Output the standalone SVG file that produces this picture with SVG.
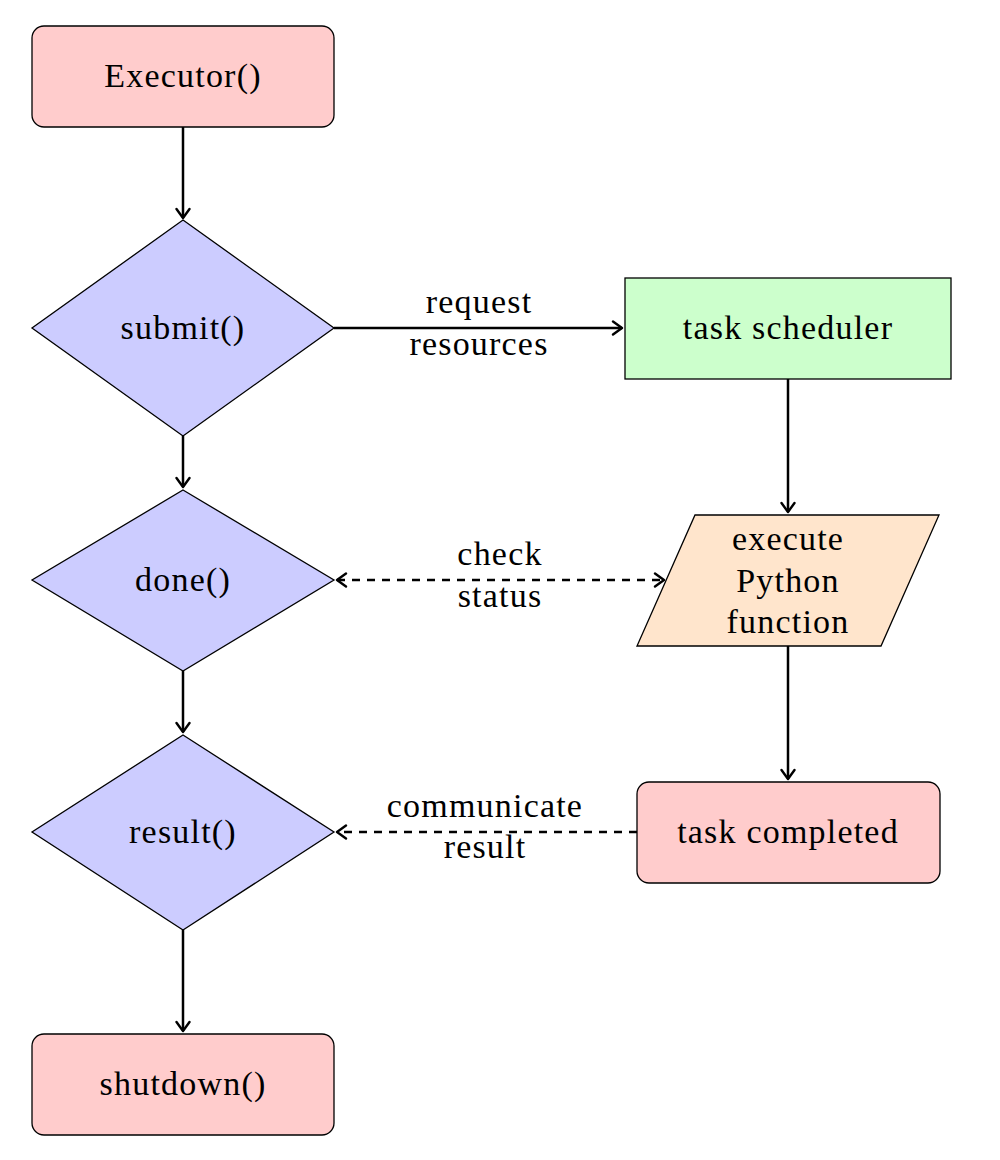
<svg xmlns="http://www.w3.org/2000/svg" width="1000" height="1160" viewBox="0 0 1000 1160">
<defs>
<style>
.node{stroke:#000;stroke-width:1.3}
.pink{fill:#FFCCCC}
.blue{fill:#CCCCFF}
.green{fill:#CCFFCC}
.orange{fill:#FFE5CC}
text{font-family:"Liberation Serif","Times New Roman",serif;font-size:34px;fill:#000;text-anchor:middle;letter-spacing:1.2px}
.edge{fill:none;stroke:#000;stroke-width:2.5}
.dash{stroke-dasharray:8 7}
</style>
<marker id="arr" viewBox="-11 -8 13 16" refX="0" refY="0" markerWidth="13" markerHeight="16" markerUnits="userSpaceOnUse" orient="auto-start-reverse">
<path d="M-9,-6.5 Q-2.5,-1.8 0,0 Q-2.5,1.8 -9,6.5" fill="none" stroke="#000" stroke-width="2.4" stroke-linecap="round" stroke-linejoin="round"/>
</marker>
</defs>
<rect width="1000" height="1160" fill="#fff"/>
<g id="connectors">
<path class="edge" d="M183,127 V218" marker-end="url(#arr)"/>
<path class="edge" d="M183,436 V487" marker-end="url(#arr)"/>
<path class="edge" d="M183,671 V732" marker-end="url(#arr)"/>
<path class="edge" d="M183,930 V1031" marker-end="url(#arr)"/>
<path class="edge" d="M334,328 H622" marker-end="url(#arr)"/>
<path class="edge" d="M788,379 V512" marker-end="url(#arr)"/>
<path class="edge" d="M788,646 V779" marker-end="url(#arr)"/>
<path class="edge dash" d="M337,580 H664" marker-start="url(#arr)" marker-end="url(#arr)"/>
<path class="edge dash" d="M637,832 H337" marker-end="url(#arr)"/>
<text x="479" y="313">request</text>
<text x="479" y="355">resources</text>
<text x="500" y="565">check</text>
<text x="500" y="607">status</text>
<text x="485" y="817">communicate</text>
<text x="485" y="858">result</text>
</g>
<g id="executor">
<rect class="node pink" x="32" y="26" width="302" height="101" rx="12"/>
<text x="183" y="87">Executor()</text>
</g>
<g id="submit">
<polygon class="node blue" points="183,220 334,328 183,436 32,328"/>
<text x="183" y="339">submit()</text>
</g>
<g id="done">
<polygon class="node blue" points="183,490 334,580 183,671 32,580"/>
<text x="183" y="591">done()</text>
</g>
<g id="result">
<polygon class="node blue" points="183,735 334,832 183,930 32,832"/>
<text x="183" y="843">result()</text>
</g>
<g id="shutdown">
<rect class="node pink" x="32" y="1034" width="302" height="101" rx="12"/>
<text x="183" y="1095">shutdown()</text>
</g>
<g id="scheduler">
<rect class="node green" x="625" y="278" width="326" height="101"/>
<text x="788" y="339">task scheduler</text>
</g>
<g id="execute">
<polygon class="node orange" points="695,515 939,515 881,646 637,646"/>
<text x="788" y="550">execute</text>
<text x="788" y="592">Python</text>
<text x="788" y="633">function</text>
</g>
<g id="completed">
<rect class="node pink" x="637" y="782" width="303" height="101" rx="12"/>
<text x="788" y="843">task completed</text>
</g>
</svg>
